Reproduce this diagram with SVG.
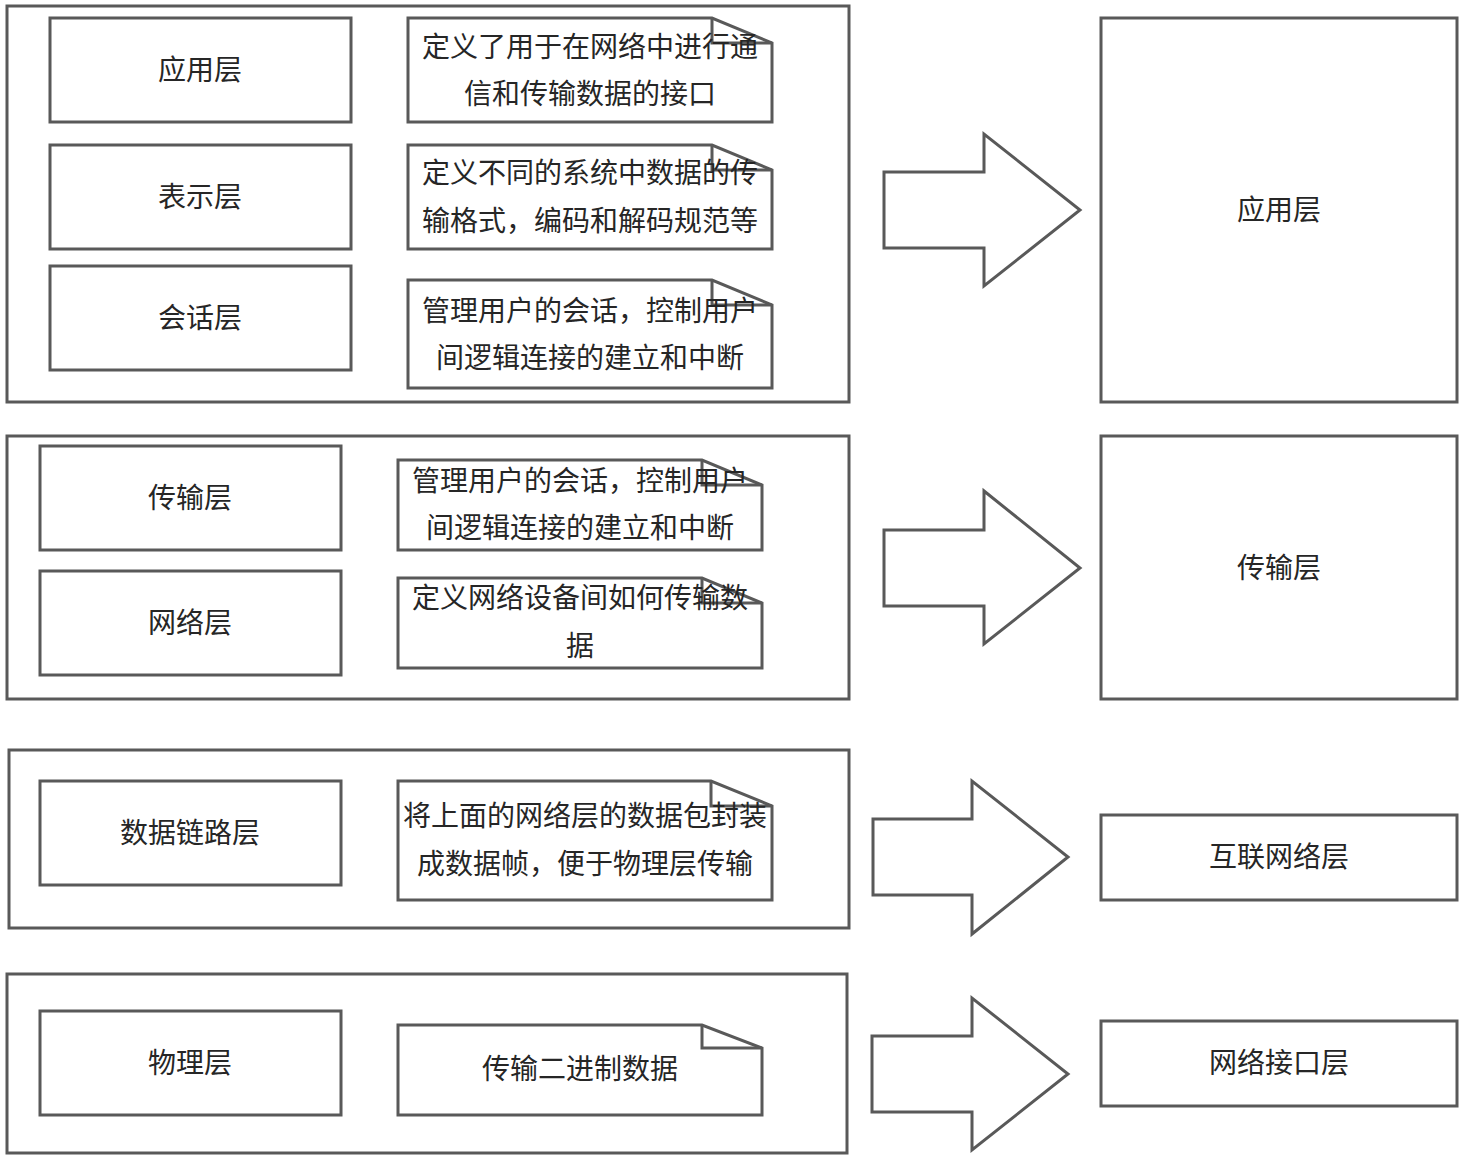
<svg xmlns="http://www.w3.org/2000/svg" width="1468" height="1158" viewBox="0 0 1468 1158">
<style>
.b{fill:#fff;stroke:#595959;stroke-width:3}
.f{fill:none;stroke:#595959;stroke-width:3}
.t{font-family:"Noto Sans CJK SC","Noto Sans",sans-serif;font-size:28px;fill:#262626;text-anchor:middle;dominant-baseline:central}
</style>
<rect width="1468" height="1158" fill="#fff"/>
<g id="containers">
<rect id="c1" class="b" x="7" y="6" width="842" height="396"/>
<rect id="c2" class="b" x="7" y="436" width="842" height="263"/>
<rect id="c3" class="b" x="9" y="750" width="840" height="178"/>
<rect id="c4" class="b" x="7" y="974" width="840" height="179"/>
</g>
<g id="n-app"><rect class="b" x="50" y="18" width="301" height="104"/><text class="t" x="200" y="68">应用层</text></g>
<g id="n-pres"><rect class="b" x="50" y="145" width="301" height="104"/><text class="t" x="200" y="195">表示层</text></g>
<g id="n-sess"><rect class="b" x="50" y="266" width="301" height="104"/><text class="t" x="200" y="316">会话层</text></g>
<g id="n-trans"><rect class="b" x="40" y="446" width="301" height="104"/><text class="t" x="190" y="496">传输层</text></g>
<g id="n-net"><rect class="b" x="40" y="571" width="301" height="104"/><text class="t" x="190" y="621">网络层</text></g>
<g id="n-link"><rect class="b" x="40" y="781" width="301" height="104"/><text class="t" x="190" y="831">数据链路层</text></g>
<g id="n-phys"><rect class="b" x="40" y="1011" width="301" height="104"/><text class="t" x="190" y="1061">物理层</text></g>

<g id="note1"><path class="b" d="M408 18H712L772 43V122H408Z"/><path class="f" d="M712 18V43H772"/><text class="t" x="590" y="45">定义了用于在网络中进行通</text><text class="t" x="590" y="92">信和传输数据的接口</text></g>
<g id="note2"><path class="b" d="M408 145H712L772 170V249H408Z"/><path class="f" d="M712 145V170H772"/><text class="t" x="590" y="171">定义不同的系统中数据的传</text><text class="t" x="590" y="219">输格式，编码和解码规范等</text></g>
<g id="note3"><path class="b" d="M408 280H712L772 305V388H408Z"/><path class="f" d="M712 280V305H772"/><text class="t" x="590" y="309">管理用户的会话，控制用户</text><text class="t" x="590" y="356">间逻辑连接的建立和中断</text></g>
<g id="note4"><path class="b" d="M398 460H702L762 485V550H398Z"/><path class="f" d="M702 460V485H762"/><text class="t" x="580" y="479">管理用户的会话，控制用户</text><text class="t" x="580" y="526">间逻辑连接的建立和中断</text></g>
<g id="note5"><path class="b" d="M398 578H702L762 603V668H398Z"/><path class="f" d="M702 578V603H762"/><text class="t" x="580" y="596">定义网络设备间如何传输数</text><text class="t" x="580" y="644">据</text></g>
<g id="note6"><path class="b" d="M398 781H711L772 806V900H398Z"/><path class="f" d="M711 781V806H772"/><text class="t" x="585" y="814">将上面的网络层的数据包封装</text><text class="t" x="585" y="862">成数据帧，便于物理层传输</text></g>
<g id="note7"><path class="b" d="M398 1025H702L762 1048V1115H398Z"/><path class="f" d="M702 1025V1048H762"/><text class="t" x="580" y="1067">传输二进制数据</text></g>

<g id="r-app"><rect class="b" x="1101" y="18" width="356" height="384"/><text class="t" x="1279" y="208">应用层</text></g>
<g id="r-trans"><rect class="b" x="1101" y="436" width="356" height="263"/><text class="t" x="1279" y="566">传输层</text></g>
<g id="r-inet"><rect class="b" x="1101" y="815" width="356" height="85"/><text class="t" x="1279" y="855">互联网络层</text></g>
<g id="r-nif"><rect class="b" x="1101" y="1021" width="356" height="85"/><text class="t" x="1279" y="1061">网络接口层</text></g>

<g id="connectors">
<path class="b" d="M884 172H984V134L1080 210L984 286V248H884Z"/>
<path class="b" d="M884 530H984V491L1080 568L984 644V606H884Z"/>
<path class="b" d="M873 819H972V781L1068 857L972 934V895H873Z"/>
<path class="b" d="M872 1036H972V998L1068 1074L972 1150V1112H872Z"/>
</g>
</svg>
